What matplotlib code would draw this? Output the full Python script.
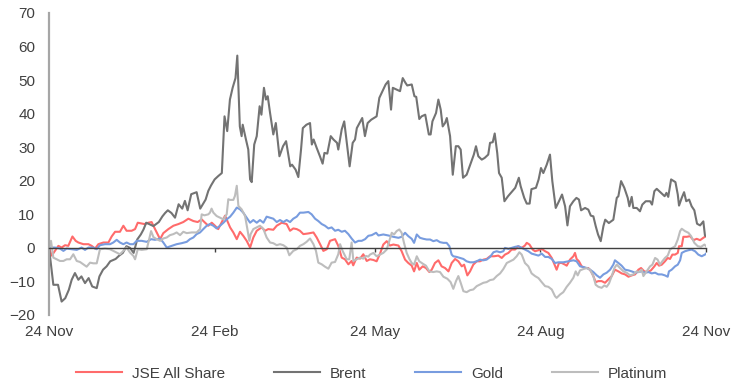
import matplotlib
matplotlib.use("Agg")
import matplotlib.pyplot as plt

plt.rcParams["font.family"] = ["Liberation Sans", "DejaVu Sans"]

# % change since 24 Nov, x = days since 24 Nov
jse_days = [0, 1.5, 3.3, 5.2, 7, 8.9, 10.7, 13, 14.8, 16.3, 19.1, 21.9, 23.7, 25.6, 27.4, 30.2, 33, 34.8,
            36.7, 39.4, 41.3, 43.1, 45.9, 47.8, 49.3, 51.1, 53, 55.2, 57, 58.9, 61.7, 63.5, 66.3, 69.1,
            71.9, 74.6, 77.4, 80.2, 82.6, 84.8, 86.7, 88.5, 90.4, 92.2, 94, 97.8, 100.6, 102.4, 104.3,
            106.1, 107.9, 109.8, 111.7, 113.5, 115.4, 118.1, 120, 121.8, 124.6, 126.5, 129.3, 132, 133.9,
            135.7, 137.6, 139.4, 141.3, 144, 146.9, 148.7, 150.6, 152.4, 154.3, 156.1, 158.9, 160.7,
            162.6, 164.4, 166.3, 168.1, 169, 170.9, 172.8, 174.6, 176.5, 178.3, 180.2, 182, 183.9, 185.7,
            187.6, 189.4, 191.3, 194.1, 195.9, 197.8, 199.6, 201.5, 202.8, 204.3, 205.7, 207.6, 209.4,
            211.3, 212.6, 214.4, 216.3, 218.1, 220, 221.9, 223.7, 225.6, 227.4, 229.3, 230.6, 232.4,
            233.9, 235.7, 237.6, 239.4, 241.3, 243.1, 245, 247.2, 249.6, 251.5, 253.3, 255.2, 257, 258.9,
            260.7, 262.6, 264.4, 265.4, 266.9, 268.7, 270, 271.9, 273.7, 275.6, 277.4, 279.3, 281.1, 282,
            283.3, 284.8, 286.7, 287.6, 289.4, 291.3, 292.2, 293.1, 294.4, 295.9, 297.8, 299.6, 301.1,
            302.4, 303.7, 305.2, 307, 308.9, 310.7, 312.6, 314.4, 316.3, 318.1, 320, 321.9, 323.7, 325.6,
            327.4, 328.9, 330.7, 332.6, 334.4, 336.3, 337.6, 338.9, 340.4, 342.2, 343.7, 345, 346.3,
            347.8, 349.3, 350, 351.5, 352.4, 354.3, 356.1, 358, 359.8, 361.7, 363.5, 365]
jse_pct = [0, -2.3, -0.9, 0.6, 0.1, 0.8, 0.6, 3.4, 2.1, 1.6, 1.1, 1.1, 0.6, -0.2, 1.1, 1.6, 1.6, 3.4,
           4.8, 4.8, 6.6, 5.1, 5.1, 5.6, 7.5, 7.3, 7.1, 7.5, 7.7, 5.6, 2.6, 4.4, 5.6, 6.6,
           7.1, 7.7, 8.7, 8.0, 7.7, 8.5, 7.5, 6.6, 7.5, 6.6, 5.6, 9.6, 6.1, 4.6, 2.6,
           4.8, 3.6, 2.1, 0.1, 3.1, 5.1, 6.1, 5.1, 5.6, 5.4, 6.6, 7.5, 7.1, 5.1,
           5.8, 5.6, 5.1, 4.1, 4.3, 4.6, 3.1, 1.1, -0.9, -0.4, 2.1, 2.6, 0.6,
           -2.9, -3.4, -4.9, -3.9, -5.2, -2.9, -3.2, -1.9, -3.9, -3.4, -3.6, -4.0, -1.7, 1.0,
           2.0, 0.7, 1.0, 0.7, -1.0, -3.5, -4.5, -5.3, -7.0, -4.5, -6.5, -5.5, -6.0,
           -7.2, -6.5, -4.5, -3.7, -5.5, -6.0, -7.0, -4.5, -3.3, -4.0, -5.5, -5.0, -8.2,
           -7.0, -5.0, -4.0, -4.0, -3.5, -3.3, -2.5, -2.5, -2.3, -3.0, -2.0, -1.5, -0.5, -0.5,
           0.5, 0, 0.7, 1.5, 1.0, -0.5, -1.0, -0.7, -0.3, -1.0, -1.5, -3.0, -5.3, -6.5,
           -4.5, -4.5, -5.0, -5.3, -3.5, -2.5, -1.5, -3.3, -4.0, -5.5, -6.0, -6.0, -7.0,
           -8.4, -10.2, -9.9, -9.9, -10.4, -9.4, -8.4, -6.5, -7.0, -7.6, -7.9, -8.6, -8.2, -7.9,
           -6.5, -6.0, -7.0, -7.2, -6.7, -5.5, -4.5, -5.3, -5.0, -4.0, -3.0, -3.3, -2.0,
           -2.0, -1.5, 0.5, 0.5, 3.3, 3.3, 3.5, 2.3, 2.7, 2.3, 3.0, 3.5]

brent_days = [0, 2.4, 5, 7, 9, 11, 12.6, 14.4, 16.3, 18, 20, 22, 24, 26.5, 28, 30, 32, 34, 37, 39, 41,
              43, 45, 47, 49, 51, 52.5, 54, 56, 58, 61, 63, 64.5, 66, 68, 70, 72, 74, 75.5, 77, 79,
              82, 84, 87, 88.5, 90, 92, 94, 96, 97.5, 99, 100.5, 102, 103.6, 104.6, 106, 107, 107.6,
              109.4, 110.7, 111.7, 112.6, 114, 115.4, 117, 118, 119.4, 120.5, 121.5, 122.8, 124.6,
              126, 128, 130, 131.7, 134, 135, 137, 138.5, 140, 141, 143, 145, 146, 147, 148.7,
              150.5, 152, 153, 154.6, 156.5, 158, 160, 160.7, 162.6, 164, 165, 167, 168.7, 170, 171,
              174, 175.5, 177, 179, 182, 183.5, 185.7, 187, 188.5, 190, 191, 193, 195, 196.5, 198,
              199, 201.5, 203, 204, 205.7, 207, 209, 211, 212, 213, 215, 216.3, 217.6, 218.7, 220,
              221, 222.8, 224.3, 226, 227.4, 228.7, 230, 232, 234, 236, 237.2, 238.5, 240.4, 242,
              244, 245, 246.5, 247.6, 249, 250, 251.5, 253, 255, 257.6, 259, 261, 262, 264, 265.4,
              267, 268, 270.5, 272, 273.3, 274.6, 276.5, 278.3, 279.6, 281.5, 283.3, 285, 286.7,
              288, 289.4, 291.3, 293, 294.4, 295.6, 297.8, 299.6, 301, 302.4, 303.7, 305, 306.5,
              308, 309, 311, 313.5, 315.4, 316.3, 317.8, 319.6, 321.5, 322.4, 323.7, 324.6, 326.5,
              328.3, 329.6, 331.5, 333.9, 335, 336.3, 337.6, 340, 342, 343, 344, 345.6, 348, 349.3,
              350, 351.5, 352.8, 354, 355.6, 357, 358.5, 360, 361.7, 363.5, 364.4, 365]
brent_pct = [0, -11, -11, -16, -15, -12.5, -9.5, -7.5, -9.5, -8.5, -10.5, -9, -11.5, -12, -8.5, -6.5,
             -5.5, -4, -3.3, -2.3, -1.5, 0.5, 0, -1.5, 2.5, 4, 5.5, 7.5, 7, 6.5, 7.7, 9.4, 10.4,
             11.2, 10.4, 9, 13, 11.7, 14, 11.2, 16, 16.6, 11.7, 14.4, 17, 18.6, 20.4, 21.4, 22.3,
             39.2, 34.8, 44.2, 47.7, 50.6, 57.3, 36.2, 33.3, 36.7, 32.3, 29.3, 20.4, 19.6, 30.8,
             33.3, 42.2, 39.7, 47.7, 44.2, 45.2, 40.2, 33.8, 37.2, 27.3, 30.3, 31.8, 24.3, 24.8,
             23.3, 21.1, 29.3, 35.7, 36.7, 37.2, 30.8, 32.3, 29.8, 27.3, 25.1, 28.3, 28.1, 33.3,
             32.3, 31.3, 29.3, 35.3, 37.7, 33.3, 24.3, 31.3, 32.3, 35.7, 38.7, 33.3, 37.2, 38.2,
             39.2, 44.7, 47.2, 48.7, 49.7, 41.2, 47.7, 47.2, 46.7, 50.6, 49.2, 48.4, 48.7, 45.2,
             45.0, 38.4, 39.2, 39.7, 33.8, 33.8, 37.7, 40.2, 44.2, 41.2, 36.2, 37.2, 38.7, 33.3,
             21.8, 30.3, 30.3, 29.3, 20.9, 21.8, 24.8, 27.8, 30.3, 27.3, 26.3, 26.8, 27.8, 31.3,
             31.5, 34.1, 28.3, 22.3, 20.9, 13.9, 15.4, 17.0, 17.9, 20.9, 18.4, 14.9, 13.2, 13.2,
             17.5, 17.9, 20.4, 23.8, 22.3, 24.8, 27.8, 19.9, 11.9, 13.9, 15.9, 12.4, 6.7, 12.4,
             13.9, 14.9, 14.4, 11.2, 11.9, 11.4, 9.6, 9.4, 6.5, 4.0, 2.0, 6.5, 8.4, 7.4, 8.4, 14.9,
             15.4, 19.9, 17.9, 14.9, 12.4, 15.2, 11.9, 11.9, 10.9, 12.9, 13.9, 13.9, 12.9, 16.9,
             17.6, 16.4, 15.4, 16.4, 15.2, 20.4, 19.6, 15.9, 12.6, 14.9, 16.6, 13.9, 14.4, 12.4,
             11.2, 7.2, 6.7, 7.9, 3.7, 3.5]

gold_days = [0, 3.3, 6.1, 8, 9.8, 12.6, 15.4, 18.1, 20, 21.9, 24.6, 26.5, 28.3, 31.1, 33.9, 35.7, 37.6,
             39.4, 41.3, 43.1, 45, 46.9, 48.7, 51.5, 54.3, 56.7, 58.9, 61.7, 63.5, 65.4, 68.1, 70.9,
             73.7, 76.5, 78.3, 80.2, 82, 83.9, 85.7, 87.6, 89.4, 91.3, 93.1, 95, 96.9, 98.7, 100.6,
             102.4, 104.3, 106.1, 107.9, 109.8, 111.7, 113.5, 115.4, 117.2, 119.1, 120.9, 122.8,
             124.6, 126.5, 128.3, 130.2, 132, 133.9, 135.7, 137.6, 139.4, 141.3, 144.1, 145.9,
             147.8, 149.6, 151.5, 153.3, 155.2, 157, 158.9, 160.7, 162.6, 164.4, 166.3, 168.1, 170,
             171.9, 173.7, 175.6, 177.4, 179.3, 181.7, 183, 185.7, 188.5, 191.3, 194.1, 195.9,
             197.8, 199.6, 201.5, 202.8, 204.3, 206.1, 208, 209.8, 211.7, 213.5, 215.4, 217.2,
             219.1, 220.9, 222.4, 223.7, 224.6, 226.5, 228.3, 230.2, 232, 233.9, 235.7, 237.6,
             239.4, 241.3, 243.1, 245, 246.9, 248.7, 250.6, 252.4, 253.3, 255.2, 257, 258.9, 260.7,
             262.6, 264.4, 266.3, 268.1, 270, 271.9, 273.7, 275.6, 277.4, 279.3, 281.1, 283, 285.7,
             288.5, 291.3, 293.1, 295, 296.9, 298.7, 300.6, 302.4, 304.3, 306.1, 308, 309.8, 311.7,
             313.5, 314.4, 316.3, 318.1, 320, 321.9, 323.7, 325.6, 327.4, 329.3, 331.1, 333, 334.8,
             336.7, 338.5, 340.4, 342.2, 343.7, 344.4, 345.9, 347.8, 349.3, 350.6, 351.5, 353.3,
             355.2, 357, 358.9, 360.7, 362.6, 364.4, 365]
gold_pct = [0.1, 0.1, -0.2, -0.9, -0.2, -0.4, -0.6, 0.1, -0.6, 0.1, 0.1, -0.4, 0.8, 1.1, 1.1, 1.6, 2.4,
            1.6, 1.1, 1.6, 1.1, 1.1, 2.1, 2.1, 1.8, 2.6, 2.4, 2.8, 1.6, 0.1, 0.6, 1.1,
            1.4, 1.8, 2.6, 3.1, 4.1, 4.6, 5.6, 6.6, 7.1, 6.6, 5.8, 6.6, 7.5, 8.5, 9.3,
            10.5, 12.0, 11.5, 10.5, 9.0, 7.5, 8.3, 7.5, 8.3, 7.5, 9.3, 9.0,
            8.7, 7.7, 8.3, 7.7, 8.3, 7.7, 8.7, 9.3, 10.5, 10.5, 10.7, 10.0,
            8.7, 8.0, 7.1, 6.6, 5.8, 6.1, 5.1, 5.4, 4.8, 5.1, 4.1, 2.8, 1.6,
            2.1, 2.1, 2.6, 3.6, 3.8, 4.5, 3.7, 4.0, 3.7, 3.3, 3.0, 3.3,
            4.5, 3.5, 2.7, 1.5, 4.0, 3.0, 2.7, 2.5, 2.5, 2.0, 2.3, 1.7,
            1.5, 1.5, 0.5, -2.0, -2.5, -2.7, -3.0, -3.3, -4.0, -4.3, -4.3, -4.0,
            -3.5, -3.7, -3.5, -2.7, -1.3, -1.0, -1.3, -1.0, 0, -0.3, 0, 0.3, 0.5,
            0, -0.5, -1.0, -1.7, -2.0, -2.3, -1.7, -2.7, -2.7, -3.3, -4.5, -4.3, -4.3,
            -4.0, -3.7, -4.0, -5.5, -5.7, -6.0, -6.5, -7.2, -8.2, -8.9, -7.9, -7.4, -6.5,
            -5.0, -3.7, -4.5, -5.3, -6.5, -6.7, -7.0, -7.4, -7.2, -7.0, -7.4, -7.2, -7.6,
            -7.4, -7.9, -7.9, -8.2, -8.6, -7.0, -6.5, -5.5, -5.0, -3.7, -1.5, -1.0,
            -0.7, -0.5, -1.0, -2.0, -2.5, -2.0, -1.7]

platinum_days = [0, 1.1, 2.4, 4.3, 6.1, 8, 9.8, 11.7, 13.5, 15.4, 17.2, 19.1, 20.9, 22.8, 24.6, 26.5,
                 28.3, 31.1, 33.9, 35.7, 37.6, 39.4, 41.3, 43.1, 45, 46.9, 47.8, 49.3, 51.5, 54.3,
                 56.7, 58, 59.8, 61.7, 63.5, 65.4, 67.2, 69.1, 70.9, 72.8, 74.6, 76.5, 79.3, 82,
                 83.9, 84.8, 86.3, 88.5, 89.4, 90.3, 91.3, 93.1, 95, 96.9, 98.7, 99.6, 100.6, 102.4,
                 103.3, 104.3, 105.2, 107, 108.9, 110.2, 111.3, 112, 113.5, 115.4, 117.2, 119.1,
                 120.9, 122.8, 124.6, 126.5, 128.3, 130.2, 132, 133.5, 135.7, 137.6, 139.4, 141.3,
                 143.1, 145, 146.9, 148.3, 149.6, 151.5, 153.3, 155.2, 157, 158.9, 160.7, 161.7,
                 163.1, 165.4, 166.8, 168.1, 169.1, 170.9, 172.8, 174.6, 176.1, 177.4, 178.3, 180.2,
                 182, 183.9, 185.7, 187.6, 189, 190.4, 191.7, 193.1, 194.6, 195.9, 197.2, 198.7,
                 200.2, 201.5, 202.8, 204.3, 205.7, 207.6, 209.4, 211.3, 213.5, 215.4, 217.2, 219.1,
                 221.3, 223.1, 224.6, 226.1, 227.4, 228.7, 230.2, 232, 233.9, 235.7, 237.6, 239.4,
                 241.3, 243.1, 245, 246.9, 248.7, 250.6, 252.4, 254.3, 256.1, 258, 259.8, 261.3,
                 262.6, 264.4, 266.3, 268.1, 270, 271.9, 273.7, 275.6, 277.4, 279.3, 281.1, 282,
                 283.9, 285.7, 287.6, 289.4, 291.3, 292.6, 293.7, 295, 296.9, 298.7, 300.6, 302.4,
                 303.7, 305.2, 307, 308.5, 309.8, 311.1, 312.6, 314.1, 315.4, 317.2, 319.1, 320.9,
                 322.8, 324.6, 326.5, 327.8, 329.3, 330.2, 332, 333.9, 335.2, 336.7, 338.1, 339.4,
                 340.7, 342.2, 343.7, 345, 346.3, 347.8, 349.3, 350.6, 351.5, 353.3, 355.2, 356.7,
                 358.5, 360.4, 362.2, 364.1, 365]
platinum_pct = [0, 2.1, -2.9, -3.4, -3.9, -3.9, -3.4, -3.4, -1.9, -3.9, -4.2, -4.9, -5.6, -4.4, -4.6,
                -4.6, -0.4, -0.2, -0.4, -0.9, -1.4, -1.9, -0.9, 0.1, -1.4, -2.4, -3.4, -0.4, -0.6,
                -0.4, 5.0, 3.2, 2.6, 2.1, 2.8, 3.1, 3.8, 4.1, 4.6, 3.8, 4.8, 4.4, 4.6, 4.6, 5.6,
                10.0, 9.7, 10.0, 10.5, 11.7, 10.5, 9.5, 9.0, 8.5, 10.0, 14.5, 14.3, 14.3, 15.5,
                18.5, 12.5, 11.5, 9.5, 5.6, 2.1, 4.1, 5.6, 6.1, 6.6, 5.6, 3.1, 1.6, 1.4, 0.8, 1.1,
                0.8, 0.1, -2.2, -0.9, -0.4, 0.6, 1.1, 1.8, 2.8, 1.1, -0.9, -4.4, -4.9, -5.6, -6.2,
                -4.4, -4.2, -1.9, 1.1, -0.9, -3.4, -3.4, 1.6, -3.9, -3.4, -2.9, -3.2, -2.4, -2.6,
                -2.0, -1.5, -2.5, -2.0, -1.5, -0.5, 2.0, 4.5, 4.0, 5.0, 5.5, 4.5, 1.5, -1.5, -3.3,
                -4.5, -5.0, -2.5, -4.0, -4.7, -5.3, -7.0, -7.2, -7.0, -7.2, -8.6, -9.2, -10.2,
                -12.2, -9.9, -8.4, -10.4, -12.9, -13.2, -12.6, -12.4, -11.4, -10.9, -10.4, -10.2,
                -9.6, -9.4, -8.4, -7.6, -6.3, -4.5, -4.0, -3.5, -2.5, -1.3, -2.0, -4.5, -5.5, -7.6,
                -8.4, -9.0, -10.2, -11.4, -11.6, -12.4, -14.4, -14.9, -13.9, -13.2, -11.6, -10.4,
                -8.9, -7.0, -8.2, -6.7, -6.3, -6.0, -6.5, -8.4, -11.0, -11.6, -11.9, -11.2, -11.6,
                -10.6, -8.4, -6.0, -5.0, -6.0, -7.0, -7.4, -8.2, -7.9, -7.0, -7.2, -6.5, -8.4, -7.0,
                -5.5, -5.0, -3.0, -3.5, -5.0, -4.0, -3.0, -2.3, -0.5, 0, 0.5, 2.5, 5.0, 5.7, 5.0,
                4.5, 3.5, 1.5, 0.5, 0.3, 1.0, 0.5]

tick_days = [0, 92, 181, 273, 365]
tick_labels = ["24 Nov", "24 Feb", "24 May", "24 Aug", "24 Nov"]

text_color = "#404040"
font_size = 11

fig = plt.figure(figsize=(7.45, 3.82), dpi=100)
ax = fig.add_axes([0.0658, 0.1754, 0.8819, 0.7906])

ax.plot(jse_days, jse_pct, color="#ff6b6b", lw=1.5, label="JSE All Share")
ax.plot(brent_days, brent_pct, color="#737373", lw=1.5, label="Brent")
ax.plot(gold_days, gold_pct, color="#789cdf", lw=1.5, label="Gold")
ax.plot(platinum_days, platinum_pct, color="#bdbdbd", lw=1.5, label="Platinum")

ax.set_xlim(0, 365)
ax.set_ylim(-20, 70)
ax.set_yticks(range(-20, 71, 10))

# zero line doubles as the x axis, labels sit under the plot
for side in ("top", "right"):
    ax.spines[side].set_visible(False)
ax.spines["bottom"].set_position(("data", 0))
ax.spines["bottom"].set_color("#404040")
ax.spines["bottom"].set_linewidth(1.0)
ax.spines["left"].set_color("#a6a6a6")
ax.spines["left"].set_linewidth(1.6)
ax.set_xticks(tick_days)
ax.tick_params(axis="x", direction="out", length=3, width=1, color="#404040", labelbottom=False)
ax.tick_params(axis="y", length=0, pad=10, labelsize=font_size, labelcolor=text_color)

sec = ax.secondary_xaxis("bottom")
sec.set_xticks(tick_days, tick_labels)
sec.spines["bottom"].set_visible(False)
sec.tick_params(length=0, pad=7, labelsize=font_size, labelcolor=text_color)

fig.legend(loc="center", bbox_to_anchor=(0.499, 0.022), ncol=4, frameon=False,
           fontsize=font_size, handlelength=3.0, handletextpad=0.65, columnspacing=3.2,
           labelcolor=text_color)

fig.savefig("out.png", dpi=100)
